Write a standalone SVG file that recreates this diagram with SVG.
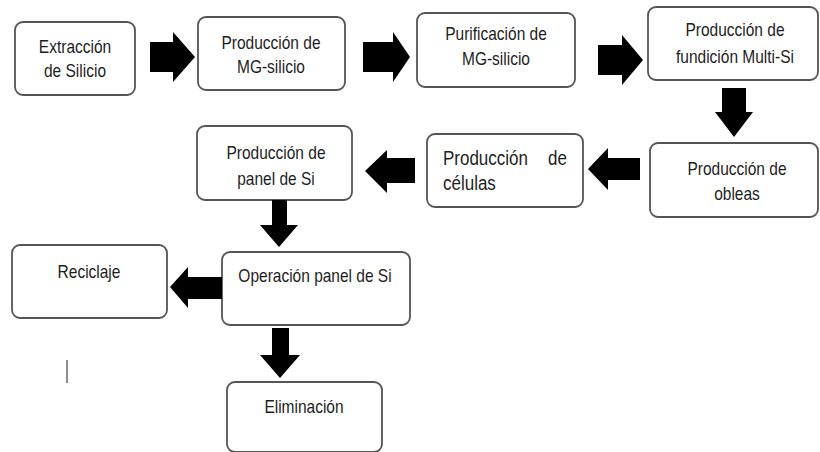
<svg xmlns="http://www.w3.org/2000/svg" width="820" height="452" viewBox="0 0 820 452">
<style>
.box{fill:#fff;stroke:#555;stroke-width:1.8}
.t{font-family:"Liberation Sans",Arial,sans-serif;font-size:15.5px;fill:#1e1e1e;text-anchor:middle}
.tl{font-family:"Liberation Sans",Arial,sans-serif;font-size:17px;fill:#1e1e1e}
.arr{fill:#000}
</style>
<rect width="820" height="452" fill="#fff"/>
<g id="extraccion"><rect class="box" x="15" y="22" width="120" height="73" rx="8"/><text class="t" transform="translate(75,53) scale(1,1.2)">Extracción</text><text class="t" transform="translate(75,77) scale(1,1.2)">de Silicio</text></g>
<g id="mg-produccion"><rect class="box" x="198" y="17" width="147" height="73" rx="8"/><text class="t" transform="translate(271,49) scale(1,1.2)">Producción de</text><text class="t" transform="translate(271,73) scale(1,1.2)">MG-silicio</text></g>
<g id="purificacion"><rect class="box" x="417" y="13" width="158" height="74" rx="8"/><text class="t" transform="translate(496,40) scale(1,1.2)">Purificación de</text><text class="t" transform="translate(496,65) scale(1,1.2)">MG-silicio</text></g>
<g id="fundicion"><rect class="box" x="648" y="7" width="170" height="73" rx="8"/><text class="t" transform="translate(735,36) scale(1,1.2)">Producción de</text><text class="t" transform="translate(735,63) scale(1,1.2)">fundición Multi-Si</text></g>
<g id="obleas"><rect class="box" x="650" y="143" width="168" height="74" rx="8"/><text class="t" transform="translate(737,175) scale(1,1.2)">Producción de</text><text class="t" transform="translate(737,200) scale(1,1.2)">obleas</text></g>
<g id="celulas"><rect class="box" x="427" y="134" width="156" height="73" rx="8"/><text class="tl" transform="translate(443,165) scale(1,1.15)">Producción</text><text class="tl" text-anchor="end" transform="translate(567,165) scale(1,1.15)">de</text><text class="tl" transform="translate(443,190) scale(1,1.15)">células</text></g>
<g id="panel"><rect class="box" x="197" y="126" width="155" height="74" rx="8"/><text class="t" transform="translate(276,159) scale(1,1.2)">Producción de</text><text class="t" transform="translate(276,185) scale(1,1.2)">panel de Si</text></g>
<g id="reciclaje"><rect class="box" x="12" y="245" width="155" height="73" rx="8"/><text class="t" transform="translate(89,278) scale(1,1.2)">Reciclaje</text></g>
<g id="operacion"><rect class="box" x="222" y="252" width="188" height="73" rx="8"/><text class="t" transform="translate(315,282) scale(1,1.2)">Operación panel de Si</text></g>
<g id="eliminacion"><rect class="box" x="227" y="382" width="155" height="70" rx="8"/><text class="t" transform="translate(304,413) scale(1,1.2)">Eliminación</text></g>
<g id="connectors">
<polygon class="arr" points="150,42 173,42 173,32 195,57 173,82 173,72 150,72"/>
<polygon class="arr" points="363,42 393,42 393,32 410,57 393,82 393,72 363,72"/>
<polygon class="arr" points="598,45 622,45 622,35 643,60 622,85 622,75 598,75"/>
<polygon class="arr" points="722,88 746,88 746,112 753,112 734,137 715,112 722,112"/>
<polygon class="arr" points="640,158 608,158 608,148 588,169 608,190 608,180 640,180"/>
<polygon class="arr" points="415,158 387,158 387,150 365,171 387,193 387,183 415,183"/>
<polygon class="arr" points="272,200 287,200 287,225 298,225 279,247 260,225 272,225"/>
<polygon class="arr" points="222,277 188,277 188,267 170,287 188,308 188,299 222,299"/>
<polygon class="arr" points="272,328 289,328 289,355 300,355 280,378 260,355 272,355"/>
</g>
<line x1="67" y1="360" x2="67" y2="383" stroke="#444" stroke-width="1.2"/>
</svg>
